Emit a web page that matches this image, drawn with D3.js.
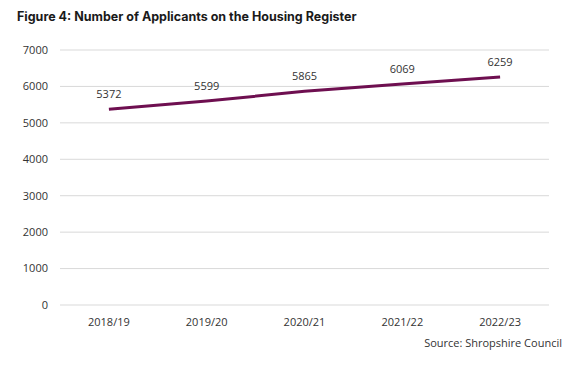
<!DOCTYPE html>
<html><head><meta charset="utf-8">
<script src="https://cdn.jsdelivr.net/npm/d3@7"></script>
<style>body{margin:0;background:#fff}svg{display:block}</style>
</head><body>
<svg id="c" width="576" height="377"></svg>
<script>
const categories = ["2018/19","2019/20","2020/21","2021/22","2022/23"];
const values = [5372,5599,5865,6069,6259];
const yTicks = [0,1000,2000,3000,4000,5000,6000,7000];

(function(){
const svg = d3.select("#c");
const mLeft = 60, mRight = 549, mTop = 50, mBottom = 305;
const x = d3.scaleBand().domain(categories).range([mLeft, mRight]);
const y = d3.scaleLinear().domain([0, 7000]).range([mBottom, mTop]);
const font = "'Open Sans', sans-serif";

svg.append("text").attr("x", 17).attr("y", 21)
  .attr("font-family", "Inter, sans-serif").attr("font-weight", 700)
  .attr("font-size", 12.5).attr("fill", "#1a1a1a")
  .text("Figure 4: Number of Applicants on the Housing Register");

const g = svg.append("g");
g.selectAll("line.grid").data(yTicks).join("line")
  .attr("x1", mLeft).attr("x2", mRight)
  .attr("y1", d => y(d)).attr("y2", d => y(d))
  .attr("stroke", "#d9d9d9").attr("stroke-width", 1);

g.selectAll("text.yt").data(yTicks).join("text")
  .attr("x", 48).attr("y", d => y(d)).attr("dy", "0.35em")
  .attr("text-anchor", "end").attr("font-family", font)
  .attr("font-size", 11).attr("fill", "#333").text(d => d);

g.selectAll("text.xt").data(categories).join("text")
  .attr("x", d => x(d) + x.bandwidth()/2).attr("y", 326)
  .attr("text-anchor", "middle").attr("font-family", font)
  .attr("font-size", 11).attr("fill", "#333").text(d => d);

const line = d3.line().x((d,i) => x(categories[i]) + x.bandwidth()/2).y(d => y(d));
g.append("path").datum(values).attr("d", line)
  .attr("fill", "none").attr("stroke", "#6e0f50").attr("stroke-width", 3)
  .attr("stroke-linecap", "butt");

g.selectAll("text.dl").data(values).join("text")
  .attr("x", (d,i) => x(categories[i]) + x.bandwidth()/2)
  .attr("y", d => y(d) - 11)
  .attr("text-anchor", "middle").attr("font-family", font)
  .attr("font-size", 11).attr("fill", "#333").text(d => d);

svg.append("text").attr("x", 562).attr("y", 347)
  .attr("text-anchor", "end").attr("font-family", font)
  .attr("font-size", 11).attr("fill", "#333").text("Source: Shropshire Council");
})();
</script>
</body></html>
